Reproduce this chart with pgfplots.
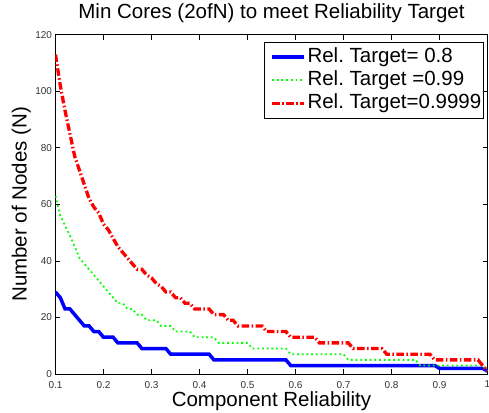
\documentclass[border=0pt]{standalone}
\usepackage{fontspec}
\setmainfont{Liberation Sans}
\usepackage{pgfplots}
\usepackage{pgfplotstable}
\pgfplotsset{compat=1.18}

\definecolor{mblue}{rgb}{0,0,1}
\definecolor{mgreen}{rgb}{0,1,0}
\definecolor{mred}{rgb}{1,0,0}

% min number of nodes
\pgfplotstableread{
p n
0.10 29
0.11 27
0.12 23
0.13 23
0.14 21
0.15 19
0.16 17
0.17 17
0.18 15
0.19 15
0.20 13
0.22 13
0.23 11
0.27 11
0.28 9
0.33 9
0.34 7
0.42 7
0.43 5
0.58 5
0.59 3
0.89 3
0.90 2
0.99 2
1.00 1
}\relA

\pgfplotstableread{
p n
0.10 63
0.11 56
0.12 52.5
0.13 49
0.14 45
0.15 41
0.16 39
0.17 37
0.18 35
0.19 33
0.20 31
0.21 29
0.22 27
0.23 25
0.24 25
0.25 23
0.26 23
0.27 21
0.28 21
0.29 19
0.31 19
0.32 17
0.34 17
0.35 15
0.38 15
0.39 13
0.43 13
0.44 11
0.50 11
0.51 9
0.58 9
0.59 7
0.70 7
0.71 5
0.85 5
0.86 3
0.99 3
1.00 1
}\relB

\pgfplotstableread{
p n
0.10 113
0.11 102
0.12 93
0.13 85
0.14 77
0.15 72
0.16 67
0.17 62
0.18 59
0.19 57
0.20 53
0.21 51
0.22 48
0.23 45
0.24 43
0.25 41
0.26 39
0.27 37
0.28 37
0.29 35
0.30 34
0.31 32
0.32 31
0.33 29
0.34 29
0.35 27
0.36 27
0.37 25
0.38 25
0.39 23
0.42 23
0.43 21
0.45 21
0.46 19
0.47 19
0.48 17
0.53 17
0.54 15
0.58 15
0.59 13
0.64 13
0.65 11
0.71 11
0.72 9
0.78 9
0.79 7
0.88 7
0.89 5
0.98 5
0.99 3
1.00 1
}\relC

\begin{document}
\frenchspacing
\begin{tikzpicture}
\begin{axis}[
    name=ax,
    at={(0,0)}, anchor=south west,
    scale only axis,
    width=432pt, height=339.3pt,
    xmin=0.1, xmax=1,
    ymin=0, ymax=120,
    xtick={0.1,0.2,0.3,0.4,0.5,0.6,0.7,0.8,0.9,1},
    xticklabels={0.1,0.2,0.3,0.4,0.5,0.6,0.7,0.8,0.9,1},
    ytick={0,20,40,60,80,100,120},
    tick align=inside,
    tick pos=both,
    major tick length=5pt,
    axis line style={line width=0.8pt},
    every tick/.style={black, line width=0.6pt},
    /pgf/number format/assume math mode=true,
    tick label style={font=\fontsize{10}{12}\selectfont, text=black!80},
    xticklabel style={yshift=-3.5pt},
    title={Min Cores (2ofN) to meet Reliability Target},
    title style={font=\fontsize{20.5}{24}\selectfont, at={(axis description cs:0.5,1.0286)}, anchor=base, inner sep=0pt},
    xlabel={Component Reliability},
    xlabel style={font=\fontsize{20.5}{24}\selectfont, at={(axis description cs:0.5,-0.097)}, anchor=base, inner sep=0pt},
    ylabel={Number of Nodes (N)},
    ylabel style={font=\fontsize{20.5}{24}\selectfont, at={(axis description cs:-0.0667,0.5)}, anchor=base, inner sep=0pt},
    legend cell align=left,
    legend image code/.code={\path (0pt,0pt); \draw[#1] (6.5pt,0pt) -- (38.2pt,0pt);},
    legend style={
        at={(axis description cs:0.4815,0.979)}, anchor=north west,
        draw=black, line width=0.6pt, fill=white,
        font=\fontsize{20.5}{24}\selectfont,
        inner xsep=0pt, inner ysep=5pt,
        row sep=3.8pt,
        nodes={inner xsep=2pt, inner ysep=0pt, text height=15pt, text depth=4.5pt},
    },
]
\addplot[mblue, line width=3.5pt] table[x=p, y=n] {\relA};
\addlegendentry{Rel. Target= 0.8}
\addplot[mgreen, line width=1.8pt, dash pattern=on 1.8pt off 2.9pt] table[x=p, y=n] {\relB};
\addlegendentry{Rel. Target =0.99}
\addplot[mred, line width=3.3pt, dash pattern=on 7.5pt off 2.5pt on 1.5pt off 2.5pt] table[x=p, y=n] {\relC};
\addlegendentry{Rel. Target=0.9999}
\end{axis}
\pgfresetboundingbox
\path ([xshift=-55.5pt,yshift=-38pt]ax.south west) rectangle ([xshift=1.5pt,yshift=34.7pt]ax.north east);
\end{tikzpicture}
\end{document}
